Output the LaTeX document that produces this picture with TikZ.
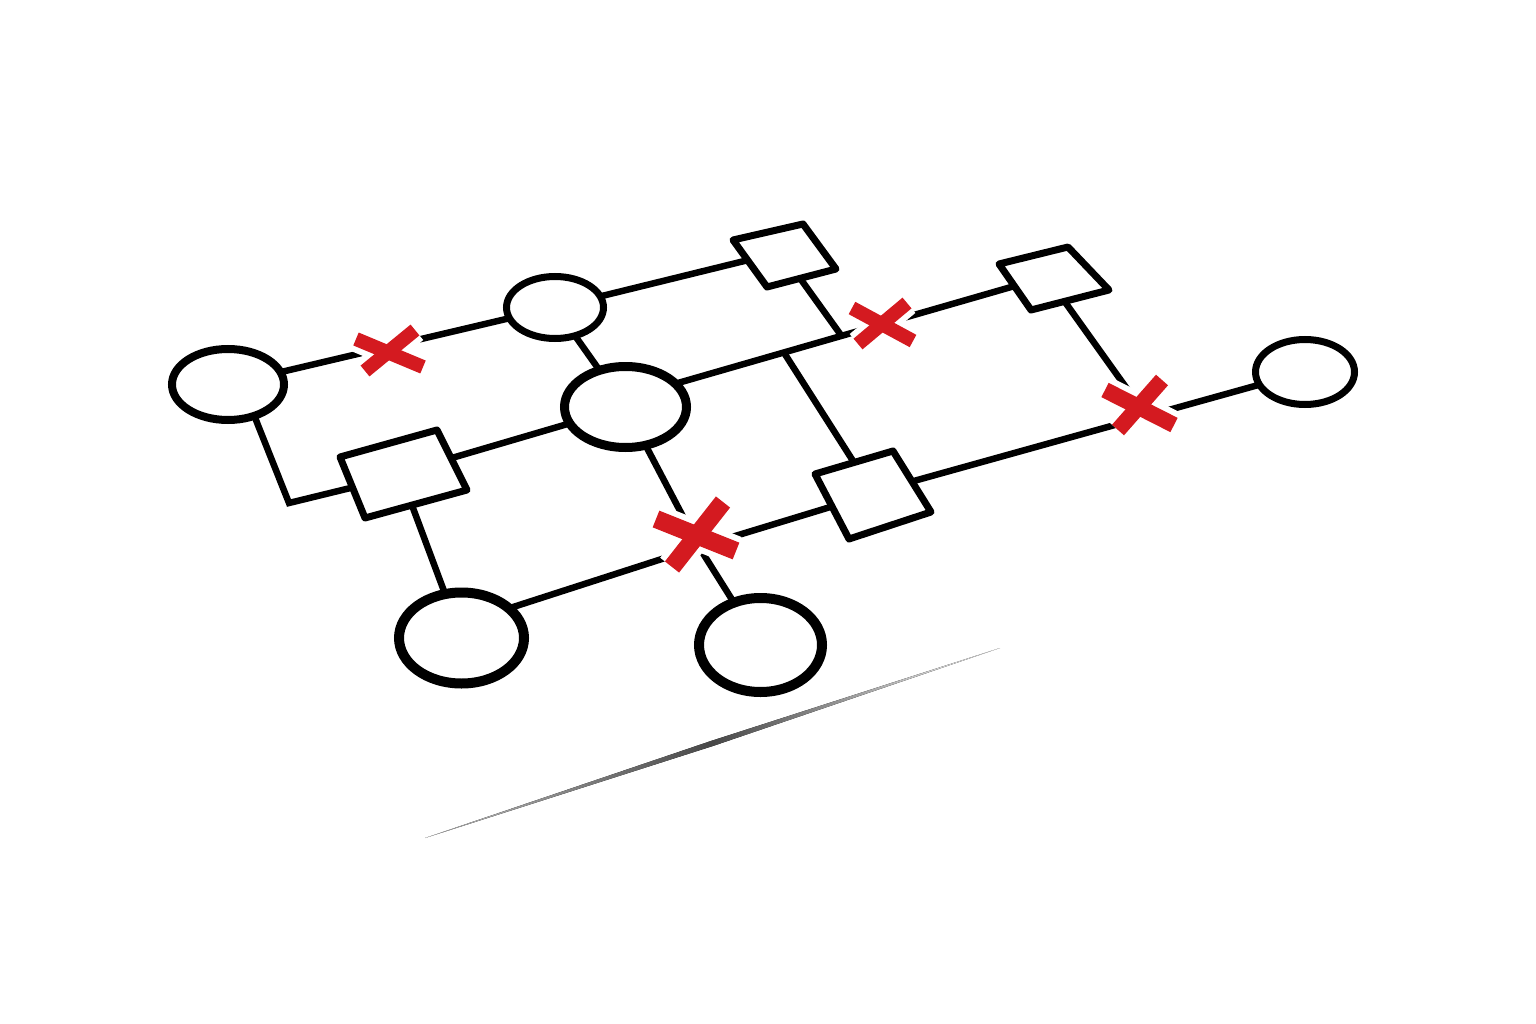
\documentclass[tikz,border=0pt]{standalone}
\usetikzlibrary{shapes.geometric,calc}
\definecolor{xred}{RGB}{212,26,32}
\begin{document}
\begin{tikzpicture}[x=1pt,y=-1pt,
  oval/.style={ellipse,draw=black,inner sep=0pt,outer sep=0pt,fill=white},
  conn/.style={draw=black,line width=6.5pt},
  sq/.style={draw=black,line width=7pt,line join=round,fill=white},
  halo/.style={draw=white,line width=#1},
  cross/.style={draw=xred,line width=#1},
]
\useasboundingbox[fill=white] (0,0) rectangle (1536,1024);

% ---- gradient ground stroke
\fill[left color=black!25, right color=black!3, middle color=black!72]
  (425,838) -- (711.5,740.8) -- (1000,648) -- (713.5,745.8) -- cycle;

% ---- ellipse nodes
\node[oval,line width=8pt,minimum width=112pt,minimum height=71pt] (e1) at (228,384.5) {};
\node[oval,line width=7pt,minimum width=97pt,minimum height=62pt] (e2) at (555,307.5) {};
\node[oval,line width=9pt,minimum width=122pt,minimum height=81pt] (e3) at (625.5,407) {};
\node[oval,line width=10pt,minimum width=125pt,minimum height=91pt] (e4) at (461.5,638) {};
\node[oval,line width=10pt,minimum width=123pt,minimum height=94pt] (e5) at (760.5,645) {};
\node[oval,line width=7pt,minimum width=99pt,minimum height=65pt] (e6) at (1305,372) {};

% ---- square (parallelogram) corners
\coordinate (s1a) at (340,457); \coordinate (s1b) at (437,430);
\coordinate (s1c) at (467,490); \coordinate (s1d) at (365,518);
\coordinate (s2a) at (733,240); \coordinate (s2b) at (803,224);
\coordinate (s2c) at (836,269); \coordinate (s2d) at (767,287);
\coordinate (s3a) at (999,264); \coordinate (s3b) at (1068,247);
\coordinate (s3c) at (1109,290); \coordinate (s3d) at (1031,310);
\coordinate (s4a) at (815,474); \coordinate (s4b) at (893,451);
\coordinate (s4c) at (931,512); \coordinate (s4d) at (849,539);

% connection points on the squares
\coordinate (s1w) at ($(s1a)!0.5!(s1d)$);
\coordinate (s1e) at ($(s1b)!0.47!(s1c)$);
\coordinate (s1s) at ($(s1d)!0.46!(s1c)$);
\coordinate (s2w) at ($(s2a)!0.43!(s2d)$);
\coordinate (s2s) at ($(s2d)!0.48!(s2c)$);
\coordinate (s3w) at ($(s3a)!0.48!(s3d)$);
\coordinate (s3s) at ($(s3d)!0.43!(s3c)$);
\coordinate (s4w) at ($(s4a)!0.5!(s4d)$);
\coordinate (s4e) at ($(s4b)!0.5!(s4c)$);
\coordinate (s4n) at ($(s4a)!0.5!(s4b)$);

% junctions and cross centres
\coordinate (elb) at (289,503);
\coordinate (j1) at ($(e3.25)!0.32!(s3w)$);
\coordinate (j2) at ($(e3.25)!0.49!(s3w)$);
\coordinate (x1) at (390,352);
\coordinate (x2) at (882,324);
\coordinate (x3) at (1140,407);
\coordinate (x4) at (697,535);
\coordinate (x4j) at (699,547);

% ---- connectors
\draw[conn] (e1) -- (e2);
\draw[conn,line join=miter] (e1.-50) -- (elb) -- (s1w);
\draw[conn] (e2) -- (s2w);
\draw[conn] (e2) -- (e3);
\draw[conn] (e3.25) -- (s3w);
\draw[conn] (s2s) -- (j2);
\draw[conn] (j1) -- (s4n);
\draw[conn] (e3) -- (s1e);
\draw[conn] (s1s) -- (e4);
\draw[conn] (e3) -- (x4j);
\draw[conn] (x4j) -- (e5);
\draw[conn] (e4.32) -- (x4j);
\draw[conn] (x4j) -- (s4w);
\draw[conn] (e6) -- (s4e);
\draw[conn] (s3s) -- (x3);

% ---- squares
\draw[sq] (s1a) -- (s1b) -- (s1c) -- (s1d) -- cycle;
\draw[sq] (s2a) -- (s2b) -- (s2c) -- (s2d) -- cycle;
\draw[sq] (s3a) -- (s3b) -- (s3c) -- (s3d) -- cycle;
\draw[sq] (s4a) -- (s4b) -- (s4c) -- (s4d) -- cycle;

% ---- red crosses with white halo
\draw[halo=26pt] ($(x1)+(-34,-13)$) -- ($(x1)+(33,15)$);
\draw[halo=26pt] ($(x1)+(-25,19)$) -- ($(x1)+(25,-22)$);
\draw[cross=14pt] ($(x1)+(-34,-13)$) -- ($(x1)+(33,15)$);
\draw[cross=14pt] ($(x1)+(-25,19)$) -- ($(x1)+(25,-22)$);

\draw[halo=26pt] ($(x2)+(-30,-16)$) -- ($(x2)+(31,17)$);
\draw[halo=26pt] ($(x2)+(-24,20)$) -- ($(x2)+(25,-21)$);
\draw[cross=14pt] ($(x2)+(-30,-16)$) -- ($(x2)+(31,17)$);
\draw[cross=14pt] ($(x2)+(-24,20)$) -- ($(x2)+(25,-21)$);

\draw[halo=28pt] ($(x3)+(-35,-17)$) -- ($(x3)+(34,18)$);
\draw[halo=28pt] ($(x3)+(-22,23)$) -- ($(x3)+(22,-27)$);
\draw[cross=16pt] ($(x3)+(-35,-17)$) -- ($(x3)+(34,18)$);
\draw[cross=16pt] ($(x3)+(-22,23)$) -- ($(x3)+(22,-27)$);

\draw[halo=30pt] ($(x4)+(-41,-16)$) -- ($(x4)+(39,16)$);
\draw[halo=30pt] ($(x4)+(-25,32)$) -- ($(x4)+(26,-33)$);
\draw[cross=18pt] ($(x4)+(-41,-16)$) -- ($(x4)+(39,16)$);
\draw[cross=18pt] ($(x4)+(-25,32)$) -- ($(x4)+(26,-33)$);
\end{tikzpicture}
\end{document}
